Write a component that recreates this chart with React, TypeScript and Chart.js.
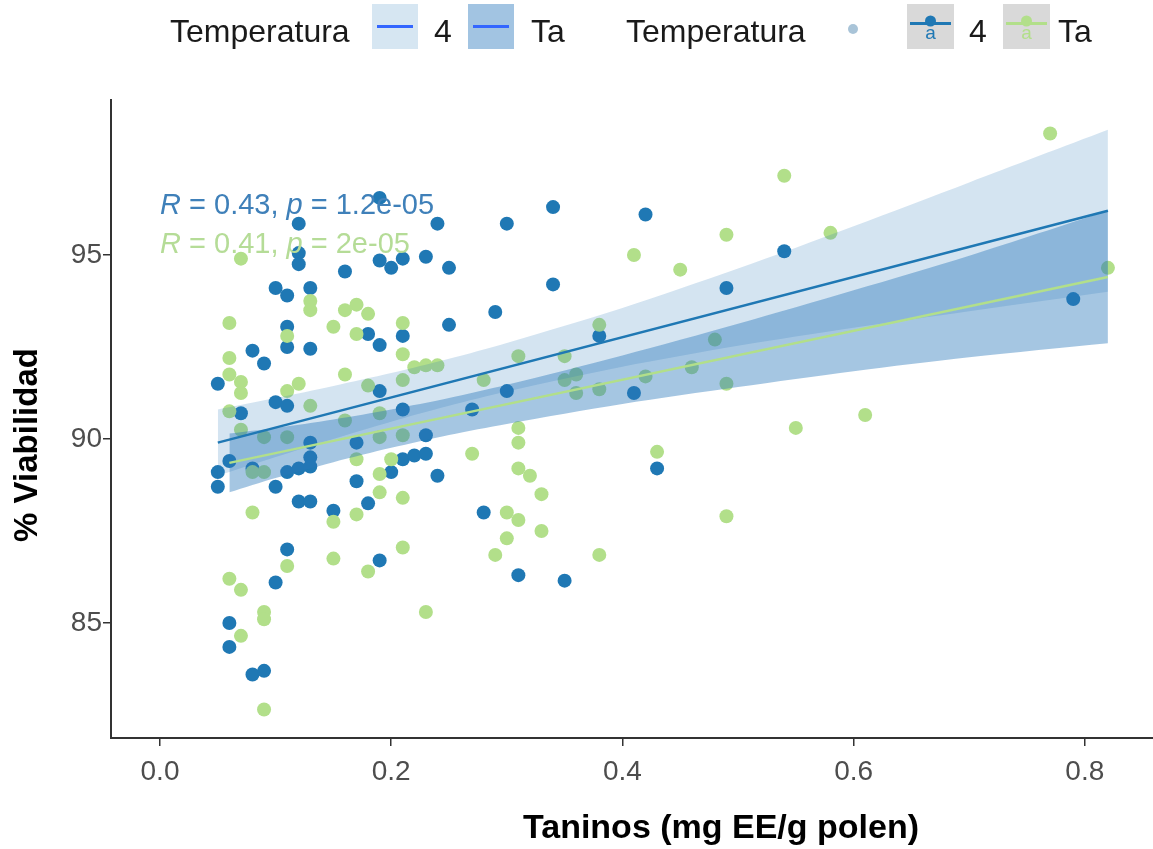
import React, { useEffect, useRef } from "react";
import { Chart, registerables } from "chart.js";

Chart.register(...registerables);

// ---------- data ----------
const groups = ["4", "Ta"];

const blueX = [0.05, 0.05, 0.05, 0.06, 0.06, 0.06, 0.07, 0.08, 0.08, 0.08, 0.09, 0.09, 0.10, 0.10, 0.10, 0.10, 0.11, 0.11, 0.11, 0.11, 0.11, 0.11, 0.12, 0.12, 0.12, 0.12, 0.12, 0.13, 0.13, 0.13, 0.13, 0.13, 0.13, 0.15, 0.16, 0.17, 0.17, 0.18, 0.18, 0.19, 0.19, 0.19, 0.19, 0.19, 0.20, 0.20, 0.21, 0.21, 0.21, 0.21, 0.22, 0.23, 0.23, 0.23, 0.24, 0.24, 0.25, 0.25, 0.27, 0.28, 0.29, 0.30, 0.30, 0.31, 0.34, 0.34, 0.35, 0.38, 0.41, 0.42, 0.43, 0.49, 0.54, 0.79];
const blueY = [91.5, 89.1, 88.7, 89.4, 85.0, 84.35, 90.7, 92.4, 89.2, 83.6, 83.7, 92.05, 94.1, 91.0, 88.7, 86.1, 93.9, 93.05, 92.5, 90.9, 89.1, 87.0, 95.85, 95.05, 94.75, 89.2, 88.3, 94.1, 92.45, 89.9, 89.5, 89.25, 88.3, 88.05, 94.55, 89.9, 88.85, 92.85, 88.25, 96.55, 94.85, 92.55, 91.3, 86.7, 94.65, 89.1, 94.9, 92.8, 90.8, 89.45, 89.55, 94.95, 90.1, 89.6, 95.85, 89.0, 94.65, 93.1, 90.8, 88.0, 93.45, 95.85, 91.3, 86.3, 96.3, 94.2, 86.15, 92.8, 91.25, 96.1, 89.2, 94.1, 95.1, 93.8];

const greenX = [0.06, 0.06, 0.06, 0.06, 0.06, 0.07, 0.07, 0.07, 0.07, 0.07, 0.07, 0.08, 0.08, 0.09, 0.09, 0.09, 0.09, 0.09, 0.11, 0.11, 0.11, 0.11, 0.12, 0.13, 0.13, 0.13, 0.15, 0.15, 0.15, 0.16, 0.16, 0.16, 0.17, 0.17, 0.17, 0.17, 0.18, 0.18, 0.18, 0.19, 0.19, 0.19, 0.19, 0.20, 0.21, 0.21, 0.21, 0.21, 0.21, 0.21, 0.22, 0.23, 0.23, 0.24, 0.27, 0.28, 0.29, 0.30, 0.30, 0.31, 0.31, 0.31, 0.31, 0.31, 0.32, 0.33, 0.33, 0.35, 0.35, 0.36, 0.36, 0.38, 0.38, 0.38, 0.41, 0.42, 0.43, 0.45, 0.46, 0.48, 0.49, 0.49, 0.49, 0.54, 0.55, 0.58, 0.61, 0.77, 0.82];
const greenY = [93.15, 92.2, 91.75, 90.75, 86.2, 94.9, 91.55, 91.25, 90.25, 85.9, 84.65, 89.1, 88.0, 90.05, 89.1, 85.3, 85.1, 82.65, 92.8, 91.3, 90.05, 86.55, 91.5, 93.75, 93.5, 90.9, 93.05, 87.75, 86.75, 93.5, 91.75, 90.5, 93.65, 92.85, 89.45, 87.95, 93.4, 91.45, 86.4, 90.7, 90.05, 89.05, 88.55, 89.45, 93.15, 92.3, 91.6, 90.1, 88.4, 87.05, 91.95, 92.0, 85.3, 92.0, 89.6, 91.6, 86.85, 88.0, 87.3, 92.25, 90.3, 89.9, 89.2, 87.8, 89.0, 88.5, 87.5, 92.25, 91.6, 91.75, 91.25, 93.1, 91.35, 86.85, 95.0, 91.7, 89.65, 94.6, 91.95, 92.7, 95.55, 91.5, 87.9, 97.15, 90.3, 95.6, 90.65, 98.3, 94.65];

// fitted lines
const blueFitX = [0.05, 0.82];
const blueFitY = [89.9, 96.2];
const greenFitX = [0.06, 0.82];
const greenFitY = [89.35, 94.4];

// confidence bands
const blueBandX = [0.05, 0.10, 0.15, 0.20, 0.25, 0.30, 0.40, 0.50, 0.60, 0.70, 0.82];
const blueUpper = [90.80, 91.11, 91.44, 91.79, 92.18, 92.61, 93.56, 94.63, 95.78, 96.97, 98.40];
const blueLower = [89.00, 89.51, 90.00, 90.47, 90.90, 91.29, 91.96, 92.53, 93.02, 93.47, 94.00];
const greenBandX = [0.06, 0.10, 0.15, 0.20, 0.25, 0.30, 0.40, 0.50, 0.60, 0.70, 0.82];
const greenUpper = [90.15, 90.30, 90.53, 90.80, 91.11, 91.47, 92.27, 93.13, 94.04, 94.98, 96.20];
const greenLower = [88.55, 88.94, 89.37, 89.76, 90.11, 90.41, 90.95, 91.41, 91.84, 92.22, 92.60];

// correlation labels
const statR = ["0.43", "0.41"];
const statP = ["1.2e-05", "2e-05"];
const statLabelX = [0.0, 0.0];
const statLabelY = [96.33, 95.27];

const xTickVals = [0, 0.2, 0.4, 0.6, 0.8];
const yTickVals = [85, 90, 95];

const xTitle = "Taninos (mg EE/g polen)";
const yTitle = "% Viabilidad";
const legendTitle = "Temperatura";

// ---------- styles ----------
const BLUE = "#1f78b4";
const GREEN = "#b2df8a";
const BLUE_FILL = "rgba(40,120,185,0.2)";
const GREEN_FILL = "rgba(40,120,185,0.42)";
const FONT = '"Liberation Sans", Arial, sans-serif';

const zip = (xs: number[], ys: number[]) => xs.map((x, i) => ({ x, y: ys[i] }));

const overlayPlugin = {
  id: "overlay",
  afterDraw(chart: any) {
    const ctx: CanvasRenderingContext2D = chart.ctx;
    const xs = chart.scales.x;
    const ys = chart.scales.y;
    ctx.save();

    // stat labels
    const statColors = ["#3f80b9", "#b5dc97"];
    for (let i = 0; i < statR.length; i++) {
      const parts: [string, boolean][] = [
        ["R", true],
        [" = " + statR[i] + ", ", false],
        ["p", true],
        [" = " + statP[i], false],
      ];
      let cx = xs.getPixelForValue(statLabelX[i]);
      const cy = ys.getPixelForValue(statLabelY[i]);
      ctx.fillStyle = statColors[i];
      ctx.textBaseline = "middle";
      ctx.textAlign = "left";
      for (const [t, it] of parts) {
        ctx.font = (it ? "italic " : "") + "29px " + FONT;
        ctx.fillText(t, cx, cy);
        cx += ctx.measureText(t).width;
      }
    }

    // axis titles
    ctx.fillStyle = "#000";
    ctx.font = "bold 34px " + FONT;
    ctx.textAlign = "center";
    ctx.textBaseline = "middle";
    ctx.fillText(xTitle, 721, 829);
    ctx.save();
    ctx.translate(28, 445);
    ctx.rotate(-Math.PI / 2);
    ctx.font = "bold 33px " + FONT;
    ctx.fillText(yTitle, 0, 0);
    ctx.restore();

    // legend
    ctx.font = "32px " + FONT;
    ctx.fillStyle = "#1a1a1a";
    ctx.textAlign = "left";
    ctx.textBaseline = "alphabetic";
    ctx.fillText(legendTitle, 170, 42);
    ctx.fillText(groups[0], 434, 42);
    ctx.fillText(groups[1], 531, 42);
    ctx.fillText(legendTitle, 626, 42);
    ctx.fillText(groups[0], 969, 42);
    ctx.fillText(groups[1], 1058, 42);

    // smooth keys
    const drawSmoothKey = (x: number, fill: string) => {
      ctx.fillStyle = fill;
      ctx.fillRect(x, 4, 46, 45);
      ctx.strokeStyle = "#3366ff";
      ctx.lineWidth = 3;
      ctx.beginPath();
      ctx.moveTo(x + 5, 26.5);
      ctx.lineTo(x + 41, 26.5);
      ctx.stroke();
    };
    drawSmoothKey(372, "#d6e6f2");
    drawSmoothKey(468, "#a2c4e2");

    // point key dot
    ctx.fillStyle = "#a9c4d8";
    ctx.beginPath();
    ctx.arc(853, 29, 5, 0, Math.PI * 2);
    ctx.fill();

    const drawCorKey = (x: number, col: string) => {
      ctx.fillStyle = "#d9d9d9";
      ctx.fillRect(x, 4, 47, 45);
      ctx.strokeStyle = col;
      ctx.lineWidth = 3;
      ctx.beginPath();
      ctx.moveTo(x + 3, 23.5);
      ctx.lineTo(x + 44, 23.5);
      ctx.stroke();
      ctx.fillStyle = col;
      ctx.beginPath();
      ctx.arc(x + 23.5, 21, 5.5, 0, Math.PI * 2);
      ctx.fill();
      ctx.font = "19px " + FONT;
      ctx.textAlign = "center";
      ctx.fillText("a", x + 23.5, 39);
      ctx.textAlign = "left";
    };
    drawCorKey(907, BLUE);
    drawCorKey(1003, GREEN);

    ctx.restore();
  },
};

export default function App() {
  const ref = useRef<HTMLCanvasElement | null>(null);
  useEffect(() => {
    if (!ref.current) return;
    const axisGrid = {
      display: true,
      drawOnChartArea: false,
      drawTicks: true,
      tickLength: 8,
      color: "#333333",
      lineWidth: 1.5,
    };
    const chart = new Chart(ref.current, {
      type: "scatter",
      data: {
        datasets: [
          {
            type: "scatter",
            label: groups[0],
            data: zip(blueX, blueY),
            backgroundColor: BLUE,
            borderWidth: 0,
            pointRadius: 7,
            order: 10,
          } as any,
          {
            type: "scatter",
            label: groups[1],
            data: zip(greenX, greenY),
            backgroundColor: GREEN,
            borderWidth: 0,
            pointRadius: 7,
            order: 9,
          } as any,
          {
            type: "line",
            label: "band4u",
            data: zip(blueBandX, blueUpper),
            borderWidth: 0,
            borderColor: "rgba(0,0,0,0)",
            pointRadius: 0,
            backgroundColor: BLUE_FILL,
            fill: "+1",
            tension: 0.3,
            order: 5,
          } as any,
          {
            type: "line",
            label: "band4l",
            data: zip(blueBandX, blueLower),
            borderWidth: 0,
            borderColor: "rgba(0,0,0,0)",
            pointRadius: 0,
            fill: false,
            tension: 0.3,
            order: 5,
          } as any,
          {
            type: "line",
            label: "bandTau",
            data: zip(greenBandX, greenUpper),
            borderWidth: 0,
            borderColor: "rgba(0,0,0,0)",
            pointRadius: 0,
            backgroundColor: GREEN_FILL,
            fill: "+1",
            tension: 0.3,
            order: 4,
          } as any,
          {
            type: "line",
            label: "bandTal",
            data: zip(greenBandX, greenLower),
            borderWidth: 0,
            borderColor: "rgba(0,0,0,0)",
            pointRadius: 0,
            fill: false,
            tension: 0.3,
            order: 4,
          } as any,
          {
            type: "line",
            label: "fit4",
            data: zip(blueFitX, blueFitY),
            borderColor: BLUE,
            borderWidth: 2.5,
            pointRadius: 0,
            fill: false,
            order: 1,
          } as any,
          {
            type: "line",
            label: "fitTa",
            data: zip(greenFitX, greenFitY),
            borderColor: GREEN,
            borderWidth: 2.5,
            pointRadius: 0,
            fill: false,
            order: 0,
          } as any,
        ],
      },
      options: {
        responsive: false,
        animation: false,
        layout: { padding: { top: 100, left: 0, right: 0, bottom: 0 } },
        plugins: {
          legend: { display: false },
          tooltip: { enabled: false },
          title: { display: false },
        },
        scales: {
          x: {
            type: "linear",
            min: -0.0424,
            max: 0.859,
            afterBuildTicks: (s: any) => {
              s.ticks = xTickVals.map((v) => ({ value: v }));
            },
            afterFit: (s: any) => {
              s.height = 111;
            },
            ticks: {
              autoSkip: false,
              maxRotation: 0,
              padding: 9,
              color: "#4d4d4d",
              font: { size: 28, family: FONT },
              callback: (v: any) => Number(v).toFixed(1),
            },
            grid: axisGrid,
            border: { display: true, color: "#333333", width: 2 },
          },
          y: {
            type: "linear",
            min: 81.875,
            max: 99.21,
            afterBuildTicks: (s: any) => {
              s.ticks = yTickVals.map((v) => ({ value: v }));
            },
            afterFit: (s: any) => {
              s.width = 111;
            },
            ticks: {
              autoSkip: false,
              padding: 1,
              color: "#4d4d4d",
              font: { size: 28, family: FONT },
              callback: (v: any) => String(v),
            },
            grid: axisGrid,
            border: { display: true, color: "#333333", width: 2 },
          },
        },
      },
      plugins: [overlayPlugin],
    } as any);
    return () => chart.destroy();
  }, []);

  return (
    <div
      style={{
        position: "fixed",
        left: 0,
        top: 0,
        width: 1153,
        height: 849,
        background: "#ffffff",
        overflow: "hidden",
      }}
    >
      <canvas ref={ref} width={1160} height={849} style={{ display: "block" }} />
    </div>
  );
}
